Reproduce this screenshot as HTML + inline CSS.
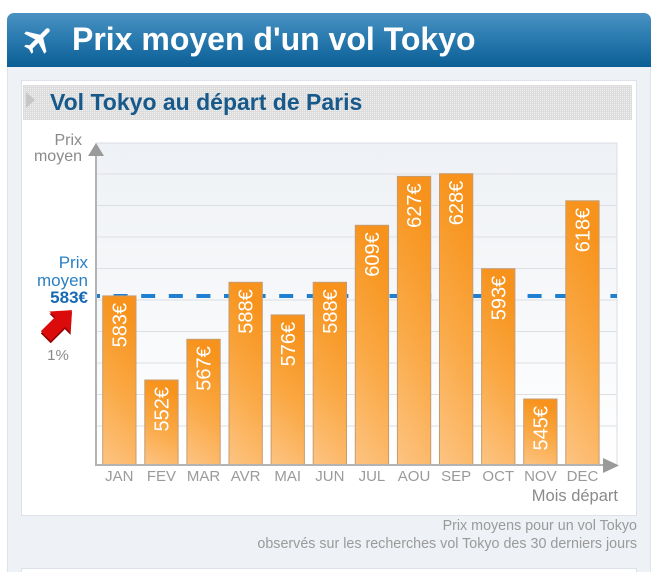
<!DOCTYPE html>
<html>
<head>
<meta charset="utf-8">
<style>
  html{margin:0;padding:0;width:660px;height:572px;overflow:hidden;}
  body{margin:0;padding:0;width:660px;height:572px;overflow:hidden;background:#ffffff;position:relative;font-family:"Liberation Sans",Arial,sans-serif;}
  .hdr{position:absolute;left:7px;top:13px;width:644px;height:54px;border-radius:7px 7px 0 0;
       background:linear-gradient(to bottom,#4a92c2 0%,#2a7bb0 45%,#0b5f95 100%);}
  .hdr .t{position:absolute;left:65px;top:7px;color:#fff;font-weight:bold;font-size:32px;line-height:38px;white-space:nowrap;}
  .panel{position:absolute;left:7px;top:67px;width:642px;height:505px;background:#eef1f5;border-left:1px solid #dfe4ea;border-right:1px solid #dfe4ea;}
  .inner{position:absolute;left:21px;top:80px;width:614px;height:434px;background:#fff;border:1px solid #dde2e8;}
  .inner2{position:absolute;left:21px;top:568px;width:614px;height:4px;background:#fff;border-top:1px solid #dde2e8;border-left:1px solid #dde2e8;border-right:1px solid #dde2e8;}
  .band{position:absolute;left:23px;top:85px;width:609px;height:35px;background-color:#f1f1f1;
        background-image:linear-gradient(90deg,#dcdcdc 1px,transparent 1px),linear-gradient(#dcdcdc 1px,transparent 1px);
        background-size:2px 2px;}
  .sub{position:absolute;left:50px;top:89px;color:#17598b;font-weight:bold;font-size:23px;line-height:27px;white-space:nowrap;}
</style>
</head>
<body>
<div class="hdr"><div class="t">Prix moyen d'un vol Tokyo</div></div>
<div class="panel"></div>
<div class="inner"></div>
<div class="inner2"></div>
<div class="band"></div>
<div class="sub">Vol Tokyo au départ de Paris</div>

<svg width="660" height="572" viewBox="0 0 660 572" style="position:absolute;left:0;top:0" xmlns="http://www.w3.org/2000/svg">
  <defs>
    <linearGradient id="plotbg" x1="0" y1="0" x2="0" y2="1">
      <stop offset="0" stop-color="#eef1f5"/>
      <stop offset="1" stop-color="#ffffff"/>
    </linearGradient>
    <linearGradient id="bar" x1="0.2" y1="0" x2="0" y2="1">
      <stop offset="0" stop-color="#f7931c"/>
      <stop offset="0.5" stop-color="#faa946"/>
      <stop offset="1" stop-color="#fdc483"/>
    </linearGradient>
  </defs>

  <!-- plane icon -->
  <g transform="translate(39,40) rotate(45) scale(1.5) translate(-12,-12)">
    <path fill="#ffffff" d="M21 16v-2l-8-5V3.5c0-.83-.67-1.5-1.5-1.5S10 2.67 10 3.5V9l-8 5v2l8-2.5V19l-2 1.5V22l3.5-1 3.5 1v-1.5L13 19v-5.5l8 2.5z"/>
  </g>

  <!-- subtitle triangle -->
  <polygon points="26,92 35,100 26,108" fill="#c6c6c6"/>

  <!-- plot background -->
  <rect x="96" y="143" width="521" height="322" fill="url(#plotbg)" stroke="#d9dde3" stroke-width="1"/>
  <!-- gridlines -->
  <g stroke="#dcdfe4" stroke-width="1">
    <line x1="96" y1="174" x2="617" y2="174"/>
    <line x1="96" y1="205.5" x2="617" y2="205.5"/>
    <line x1="96" y1="237" x2="617" y2="237"/>
    <line x1="96" y1="268.5" x2="617" y2="268.5"/>
    <line x1="96" y1="300" x2="617" y2="300"/>
    <line x1="96" y1="331.5" x2="617" y2="331.5"/>
    <line x1="96" y1="363" x2="617" y2="363"/>
    <line x1="96" y1="394.5" x2="617" y2="394.5"/>
    <line x1="96" y1="426" x2="617" y2="426"/>
  </g>

  <!-- average dashed line -->
  <line x1="96" y1="296" x2="617" y2="296" stroke="#1f7fd0" stroke-width="4" stroke-dasharray="14 13.6" stroke-dashoffset="10"/>

  <!-- bars -->
  <g fill="url(#bar)" stroke="#c59c72" stroke-width="1">
    <rect x="102.7" y="295.9" width="33.3" height="168.6"/>
    <rect x="144.8" y="380.0" width="33.3" height="84.5"/>
    <rect x="186.9" y="339.3" width="33.3" height="125.2"/>
    <rect x="229.0" y="282.3" width="33.3" height="182.2"/>
    <rect x="271.1" y="314.9" width="33.3" height="149.6"/>
    <rect x="313.2" y="282.3" width="33.3" height="182.2"/>
    <rect x="355.3" y="225.3" width="33.3" height="239.2"/>
    <rect x="397.4" y="176.4" width="33.3" height="288.1"/>
    <rect x="439.5" y="173.7" width="33.3" height="290.8"/>
    <rect x="481.6" y="268.7" width="33.3" height="195.8"/>
    <rect x="523.7" y="399.0" width="33.3" height="65.5"/>
    <rect x="565.8" y="200.8" width="33.3" height="263.7"/>
  </g>

  <!-- bar labels -->
  <g fill="#ffffff" font-family="Liberation Sans, Arial, sans-serif" font-size="20" text-anchor="end">
    <text transform="translate(119.35,302.9) rotate(-90)" dy="7">583€</text>
    <text transform="translate(161.45,387.0) rotate(-90)" dy="7">552€</text>
    <text transform="translate(203.55,346.3) rotate(-90)" dy="7">567€</text>
    <text transform="translate(245.65,289.3) rotate(-90)" dy="7">588€</text>
    <text transform="translate(287.75,321.9) rotate(-90)" dy="7">576€</text>
    <text transform="translate(329.85,289.3) rotate(-90)" dy="7">588€</text>
    <text transform="translate(371.95,232.3) rotate(-90)" dy="7">609€</text>
    <text transform="translate(414.05,183.4) rotate(-90)" dy="7">627€</text>
    <text transform="translate(456.15,180.7) rotate(-90)" dy="7">628€</text>
    <text transform="translate(498.25,275.7) rotate(-90)" dy="7">593€</text>
    <text transform="translate(540.35,406.0) rotate(-90)" dy="7">545€</text>
    <text transform="translate(582.45,207.8) rotate(-90)" dy="7">618€</text>
  </g>

  <!-- axes -->
  <line x1="96" y1="150" x2="96" y2="466" stroke="#b3b3b3" stroke-width="2"/>
  <line x1="95" y1="465" x2="606" y2="465" stroke="#b3b3b3" stroke-width="2"/>
  <polygon points="88,156 96,143 104,156" fill="#9a9a9a"/>
  <polygon points="603,458 619,465.5 603,473" fill="#9a9a9a"/>

  <!-- x labels -->
  <g fill="#9a9a9a" font-family="Liberation Sans, Arial, sans-serif" font-size="15" text-anchor="middle">
    <text x="119.35" y="481">JAN</text>
    <text x="161.45" y="481">FEV</text>
    <text x="203.55" y="481">MAR</text>
    <text x="245.65" y="481">AVR</text>
    <text x="287.75" y="481">MAI</text>
    <text x="329.85" y="481">JUN</text>
    <text x="371.95" y="481">JUL</text>
    <text x="414.05" y="481">AOU</text>
    <text x="456.15" y="481">SEP</text>
    <text x="498.25" y="481">OCT</text>
    <text x="540.35" y="481">NOV</text>
    <text x="582.45" y="481">DEC</text>
  </g>
  <text x="618" y="501" fill="#8a8a8a" font-family="Liberation Sans, Arial, sans-serif" font-size="16.5" text-anchor="end">Mois départ</text>

  <!-- y axis title -->
  <g fill="#8a8a8a" font-family="Liberation Sans, Arial, sans-serif" font-size="16" text-anchor="end">
    <text x="82" y="145">Prix</text>
    <text x="82" y="161">moyen</text>
  </g>

  <!-- average label -->
  <g font-family="Liberation Sans, Arial, sans-serif" font-size="17" text-anchor="end">
    <text x="88" y="268" fill="#2b7fc3">Prix</text>
    <text x="88" y="286" fill="#2b7fc3">moyen</text>
    <text x="88" y="303" fill="#1769b5" font-weight="bold">583€</text>
  </g>

  <!-- red arrow -->
  <g transform="translate(58.5,323.5) rotate(45)">
    <polygon points="-15,-2 0,-19 15,-2 7,-2 7,18 -7,18 -7,-2" fill="#8e0000" transform="translate(1.5,1.5)"/>
    <polygon points="-15,-2 0,-19 15,-2 7,-2 7,18 -7,18 -7,-2" fill="#dc0b0b"/>
  </g>
  <text x="58" y="360" fill="#8a8a8a" font-family="Liberation Sans, Arial, sans-serif" font-size="15" text-anchor="middle">1%</text>

  <!-- footer -->
  <g fill="#9a9a9a" font-family="Liberation Sans, Arial, sans-serif" font-size="14.3" text-anchor="end">
    <text x="637" y="530">Prix moyens pour un vol Tokyo</text>
    <text x="637" y="548">observés sur les recherches vol Tokyo des 30 derniers jours</text>
  </g>
</svg>
</body>
</html>
